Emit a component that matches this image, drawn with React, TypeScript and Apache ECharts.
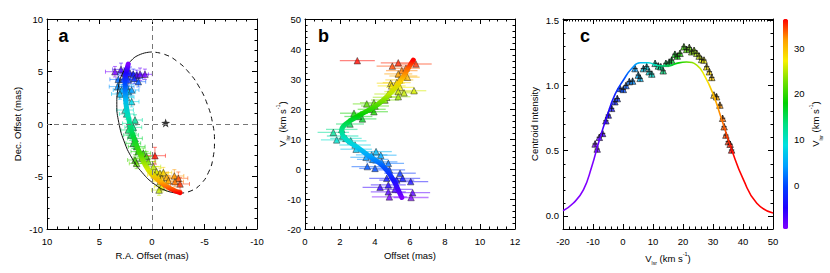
import React, { useEffect, useRef } from "react";
import * as echarts from "echarts";

const FONT = '"Liberation Sans", Arial, Helvetica, sans-serif';
const V_MIN = -9.6;
const V_MAX = 36.4;
const RAINBOW = ["#8000ff", "#2000ff", "#0040ff", "#00a0ff", "#00e0e0", "#00e080", "#00d000", "#70e000", "#f8f000", "#ffa000", "#ff0000"];

// Panel a maser spots: [R.A. offset, Dec. offset, V_lsr, R.A. err, Dec. err]
const A_SPOTS = [
  [3.53, 4.98, -9.2, 0.9, 0.5], [2.95, 5.2, -6.5, 0.8, 0.6], [2.57, 4.83, -5.0, 0.7, 0.5], [2.1, 4.83, -3.5, 0.7, 0.6],
  [1.78, 4.73, -3.0, 0.8, 0.5], [1.46, 4.63, -7.0, 0.7, 0.5], [1.14, 4.73, -8.0, 0.8, 0.6], [0.67, 4.73, -9.0, 0.7, 0.5],
  [3.21, 4.25, 1.5, 0.8, 0.5], [2.73, 4.25, -0.5, 0.7, 0.5], [2.26, 4.19, -1.5, 0.7, 0.5], [1.68, 4.35, -2.0, 0.8, 0.5],
  [1.3, 4.03, 0.5, 0.7, 0.5], [3.27, 3.56, 3.5, 0.8, 0.6], [2.41, 3.56, 2.5, 0.7, 0.5], [2.89, 3.24, 5.0, 0.8, 0.5],
  [2.26, 3.08, 6.0, 0.7, 0.5], [1.94, 3.24, 4.0, 0.7, 0.5], [3.05, 2.86, 6.0, 0.8, 0.5], [2.41, 2.54, 7.0, 0.7, 0.5],
  [1.94, 2.13, 8.0, 0.7, 0.5], [2.57, 1.33, 10.0, 0.8, 0.6], [2.41, 0.95, 11.0, 0.7, 0.5], [1.62, 0.38, 12.0, 0.7, 0.5],
  [2.1, 0.06, 12.5, 0.7, 0.5], [1.78, -0.32, 13.0, 0.8, 0.5], [2.26, -0.57, 14.0, 0.7, 0.5], [2.0, -1.05, 15.0, 0.7, 0.5],
  [1.62, -1.37, 16.0, 0.7, 0.5], [1.78, -1.84, 17.0, 0.7, 0.5], [1.46, -2.16, 18.0, 0.8, 0.5], [1.3, -2.63, 19.0, 0.7, 0.5],
  [0.83, -2.79, 20.0, 0.7, 0.5], [0.51, -3.11, 21.0, 0.7, 0.5], [0.98, -3.27, 21.5, 0.8, 0.5], [1.62, -3.43, 20.5, 0.7, 0.5],
  [1.46, -3.75, 22.0, 0.7, 0.5], [0.35, -3.59, 23.0, 0.7, 0.5], [-0.28, -3.02, 36.0, 1.0, 0.8], [-0.13, -4.06, 25.0, 0.7, 0.5],
  [-0.44, -4.54, 26.0, 0.7, 0.5], [-0.28, -4.86, 27.0, 0.7, 0.5], [-0.76, -4.7, 28.0, 0.8, 0.5], [-1.08, -4.63, 29.0, 0.8, 0.5],
  [-0.6, -5.02, 28.5, 0.7, 0.5], [-0.92, -5.17, 30.0, 0.8, 0.5], [-1.4, -5.08, 31.0, 0.8, 0.5], [-2.13, -4.95, 32.0, 0.9, 0.6],
  [-2.51, -5.17, 34.0, 0.9, 0.6], [-1.56, -5.4, 31.5, 0.8, 0.5], [-2.19, -5.49, 33.0, 0.8, 0.5], [-2.67, -5.71, 35.0, 0.9, 0.6],
  [-0.76, -5.49, 27.5, 0.7, 0.5], [-0.92, -5.97, 26.5, 0.7, 0.5], [-0.67, -6.29, 25.5, 0.7, 0.5],
];
// Panel a model curve: [R.A., Dec., V_lsr]
const A_MODEL = [
  [2.26, 5.71, -9.5], [2.45, 4.9, -5], [2.57, 3.87, 0], [2.51, 2.29, 6], [2.26, 0.7, 11], [1.78, -1.2, 16],
  [1.14, -2.79, 21], [0.35, -4.38, 26], [-0.76, -5.49, 31], [-1.71, -6.13, 34], [-2.67, -6.54, 36.3],
];
// Panel a ring: solid and dashed halves
const A_RING_SOLID = [
  [0.0, 6.86], [1.11, 6.63], [2.06, 5.96], [2.77, 4.89], [3.21, 3.5], [3.35, 1.87], [3.16, 0.13],
  [2.67, -1.61], [1.91, -3.24], [0.93, -4.63], [-0.2, -5.7], [-1.4, -6.37], [-2.6, -6.6],
];
const A_RING_DASHED = [
  [-2.6, -6.6], [-3.71, -6.37], [-4.66, -5.7], [-5.37, -4.63], [-5.81, -3.24], [-5.95, -1.61], [-5.76, 0.13],
  [-5.27, 1.87], [-4.51, 3.5], [-3.53, 4.89], [-2.4, 5.96], [-1.2, 6.63], [0.0, 6.86],
];
const A_STAR = [[-1.3, 0.1]];

// Panel b: [offset, V_lsr, offset err]
const B_SPOTS = [
  [2.99, 36.1, 1.0], [4.99, 34.3, 0.9], [5.33, 35.4, 1.0], [6.34, 35.0, 0.9], [5.53, 32.8, 0.9], [5.77, 33.6, 0.8],
  [5.33, 31.7, 0.8], [5.62, 31.0, 0.8], [5.85, 30.6, 0.7], [5.39, 29.7, 0.8], [5.24, 28.8, 0.8], [4.9, 28.6, 0.8],
  [4.95, 27.7, 0.8], [5.43, 27.2, 0.8], [5.33, 25.8, 0.8], [5.66, 25.4, 0.8], [6.23, 26.1, 0.7], [4.76, 25.0, 0.8],
  [4.67, 23.9, 0.8], [5.33, 24.1, 0.7], [4.57, 23.0, 0.8], [3.53, 21.7, 0.8], [3.94, 22.1, 0.8], [4.0, 21.0, 0.8],
  [3.81, 19.9, 0.8], [3.94, 19.1, 0.8], [3.28, 16.7, 0.8], [2.8, 18.6, 0.8], [3.05, 17.5, 0.8], [2.57, 15.0, 0.8],
  [2.1, 13.2, 0.9], [1.62, 12.2, 0.9], [1.81, 9.7, 0.9], [2.15, 11.0, 0.9], [2.34, 10.2, 0.9], [2.61, 9.4, 0.9],
  [2.86, 8.0, 0.9], [2.92, 6.6, 0.9], [3.49, 3.9, 0.9], [3.81, 4.7, 0.9], [4.06, 5.8, 0.9], [4.33, 4.6, 0.9],
  [3.87, 3.2, 0.9], [3.56, 0.8, 0.9], [4.0, 0.2, 0.9], [4.38, 2.4, 0.9], [4.76, 1.9, 0.9], [4.82, -0.3, 0.9],
  [5.43, -1.4, 0.9], [4.67, -3.1, 1.0], [5.24, -3.7, 1.0], [6.04, -4.2, 1.0], [4.29, -6.1, 1.0], [4.76, -5.3, 1.0],
  [5.14, -6.8, 1.0], [4.76, -7.6, 1.0], [4.82, -9.3, 1.0], [5.58, -3.1, 1.0], [6.15, -7.9, 1.0], [6.06, -9.5, 1.0],
];
// Panel b model curve: [offset, V_lsr]
const B_MODEL = [
  [6.19, 36.3], [5.9, 33.6], [5.43, 29.1], [4.86, 25.2], [4.1, 21.3], [3.14, 18.0], [2.38, 15.2], [2.1, 13.0],
  [2.29, 10.2], [2.95, 7.4], [3.72, 4.1], [4.48, 0.8], [5.05, -3.7], [5.33, -7.0], [5.53, -9.5],
];

// Panel c: [V_lsr, centroid intensity, V err, intensity err]
const C_SPOTS = [
  [-9.3, 0.552, 0.9, 0.025], [-8.6, 0.513, 0.9, 0.025], [-7.9, 0.603, 0.9, 0.025], [-6.8, 0.633, 0.9, 0.025],
  [-5.7, 0.73, 0.9, 0.025], [-4.9, 0.774, 0.9, 0.025], [-3.8, 0.825, 0.9, 0.025], [-2.7, 0.876, 0.9, 0.025],
  [-1.9, 0.9, 0.9, 0.025], [-1.0, 0.978, 0.9, 0.025], [0.1, 0.97, 0.9, 0.025], [1.0, 1.0, 0.9, 0.025],
  [2.1, 1.03, 0.9, 0.025], [3.2, 1.034, 0.9, 0.025], [4.0, 1.13, 0.9, 0.025], [5.1, 1.08, 0.9, 0.025],
  [5.7, 1.055, 0.9, 0.025], [6.8, 1.13, 0.9, 0.025], [7.9, 1.144, 0.9, 0.025], [8.7, 1.106, 0.9, 0.025],
  [9.6, 1.088, 0.9, 0.025], [10.7, 1.17, 0.9, 0.025], [11.8, 1.15, 0.9, 0.025], [12.6, 1.144, 0.9, 0.025],
  [13.4, 1.113, 0.9, 0.025], [14.3, 1.17, 0.9, 0.025], [15.4, 1.18, 0.9, 0.025], [16.2, 1.195, 0.9, 0.025],
  [17.3, 1.24, 0.9, 0.025], [18.1, 1.226, 0.9, 0.025], [19.0, 1.247, 0.9, 0.025], [20.3, 1.297, 0.9, 0.025],
  [21.2, 1.277, 0.9, 0.025], [22.1, 1.292, 0.9, 0.025], [22.9, 1.259, 0.9, 0.025], [23.7, 1.27, 0.9, 0.025],
  [24.6, 1.247, 0.9, 0.025], [25.4, 1.226, 0.9, 0.025], [26.2, 1.2, 0.9, 0.025], [27.0, 1.195, 0.9, 0.025],
  [27.9, 1.144, 0.9, 0.025], [28.8, 1.106, 0.9, 0.025], [29.6, 1.062, 0.9, 0.025], [30.3, 0.927, 0.9, 0.025],
  [31.2, 0.914, 0.9, 0.025], [32.3, 0.85, 0.9, 0.025], [33.2, 0.749, 0.9, 0.025], [33.7, 0.684, 0.9, 0.025],
  [34.3, 0.62, 0.9, 0.025], [35.1, 0.57, 0.9, 0.025], [35.7, 0.55, 0.9, 0.025], [36.2, 0.506, 0.9, 0.025],
];
// Panel c model curve: [V_lsr, intensity]
const C_MODEL = [
  [-20, 0.04], [-16.6, 0.097], [-13.2, 0.2], [-10.4, 0.38], [-8.2, 0.557], [-5.4, 0.76], [-2.7, 0.93], [0.1, 1.04],
  [2.9, 1.13], [5.7, 1.175], [8.4, 1.175], [11.8, 1.152], [15.1, 1.15], [17.9, 1.17], [21.2, 1.18], [24.6, 1.157],
  [27.3, 1.07], [30.1, 0.93], [32.9, 0.74], [36.2, 0.51], [40.1, 0.28], [44.6, 0.097], [50, 0.022],
];
const C_Y_LABELS = [0, 0.5, 1.0, 1.5];
const CBAR_LABELS = [0, 10, 20, 30];

function hexRgb(h: string) {
  return [parseInt(h.slice(1, 3), 16), parseInt(h.slice(3, 5), 16), parseInt(h.slice(5, 7), 16)];
}
function cmap(v: number) {
  const t = Math.min(1, Math.max(0, (v - V_MIN) / (V_MAX - V_MIN)));
  const p = t * (RAINBOW.length - 1);
  const i = Math.min(RAINBOW.length - 2, Math.floor(p));
  const f = p - i;
  const a = hexRgb(RAINBOW[i]);
  const b = hexRgb(RAINBOW[i + 1]);
  const c = a.map((x, k) => Math.round(x + (b[k] - x) * f));
  return `rgb(${c[0]},${c[1]},${c[2]})`;
}
function gradientFor(points: number[][], coordIdx: number, vIdx: number, vertical: boolean) {
  const vals = points.map((p) => p[coordIdx]);
  const lo = Math.min(...vals);
  const hi = Math.max(...vals);
  const stops = points
    .map((p) => ({
      offset: vertical ? (hi - p[coordIdx]) / (hi - lo) : (p[coordIdx] - lo) / (hi - lo),
      color: cmap(p[vIdx]),
    }))
    .sort((a, b) => a.offset - b.offset);
  return vertical
    ? new echarts.graphic.LinearGradient(0, 0, 0, 1, stops)
    : new echarts.graphic.LinearGradient(0, 0, 1, 0, stops);
}

const RICH = {
  n: { fontSize: 9.5, fontFamily: FONT, color: "#000", lineHeight: 15, verticalAlign: "middle" },
  s: { fontSize: 5, fontFamily: FONT, color: "#000", verticalAlign: "bottom" },
  p: { fontSize: 5.5, fontFamily: FONT, color: "#000", verticalAlign: "top" },
};
const VLSR_NAME = "{n|V}{s|lsr}{n| (km s}{p|-1}{n|)}";

function ax(o: any) {
  const base: any = {
    type: "value",
    axisLine: { show: true, onZero: false, lineStyle: { color: "#000", width: 1 } },
    axisTick: { show: true, inside: true, length: 5, lineStyle: { color: "#000", width: 1 } },
    minorTick: { show: true, splitNumber: 5, length: 2.5, lineStyle: { color: "#000", width: 1 } },
    splitLine: { show: false },
    minorSplitLine: { show: false },
    axisLabel: { show: true, color: "#000", fontSize: 9.5, fontFamily: FONT, margin: 4 },
    nameTextStyle: { color: "#000", fontSize: 9.5, fontFamily: FONT, rich: RICH },
  };
  return {
    ...base,
    ...o,
    axisLine: { ...base.axisLine, ...(o.axisLine || {}) },
    axisTick: { ...base.axisTick, ...(o.axisTick || {}) },
    minorTick: { ...base.minorTick, ...(o.minorTick || {}) },
    axisLabel: { ...base.axisLabel, ...(o.axisLabel || {}) },
    nameTextStyle: { ...base.nameTextStyle, ...(o.nameTextStyle || {}) },
  };
}

function errA(params: any, api: any) {
  const x = api.value(0), y = api.value(1), ex = api.value(3), ey = api.value(4);
  const color = api.visual("color");
  const l = api.coord([x + ex, y]), r = api.coord([x - ex, y]);
  const t = api.coord([x, y + ey]), b = api.coord([x, y - ey]);
  const cap = 2;
  const style = { stroke: color, lineWidth: 1, opacity: 0.55 };
  const ln = (x1: number, y1: number, x2: number, y2: number) => ({ type: "line", shape: { x1, y1, x2, y2 }, style });
  return {
    type: "group",
    children: [
      ln(l[0], l[1], r[0], r[1]), ln(t[0], t[1], b[0], b[1]),
      ln(l[0], l[1] - cap, l[0], l[1] + cap), ln(r[0], r[1] - cap, r[0], r[1] + cap),
      ln(t[0] - cap, t[1], t[0] + cap, t[1]), ln(b[0] - cap, b[1], b[0] + cap, b[1]),
    ],
  };
}
function errB(params: any, api: any) {
  const x = api.value(0), y = api.value(1), ex = api.value(2);
  const color = api.visual("color");
  const l = api.coord([x - ex, y]), r = api.coord([x + ex, y]);
  return { type: "line", shape: { x1: l[0], y1: l[1], x2: r[0], y2: r[1] }, style: { stroke: color, lineWidth: 1.3, opacity: 0.5 } };
}
function errC(params: any, api: any) {
  const x = api.value(0), y = api.value(1), ex = api.value(2), ey = api.value(3);
  const l = api.coord([x - ex, y]), r = api.coord([x + ex, y]);
  const t = api.coord([x, y + ey]), b = api.coord([x, y - ey]);
  const style = { stroke: "#111", lineWidth: 0.8 };
  return {
    type: "group",
    children: [
      { type: "line", shape: { x1: l[0], y1: l[1], x2: r[0], y2: r[1] }, style },
      { type: "line", shape: { x1: t[0], y1: t[1], x2: b[0], y2: b[1] }, style },
    ],
  };
}

const STAR_PATH = "path://M0,-10L2.35,-3.24L9.51,-3.09L3.8,1.24L5.88,8.09L0,4L-5.88,8.09L-3.8,1.24L-9.51,-3.09L-2.35,-3.24Z";

export default function App() {
  const ref = useRef<HTMLDivElement>(null);
  useEffect(() => {
    if (!ref.current) return;
    const chart = echarts.init(ref.current, null, { renderer: "svg" });
    const option: any = {
      animation: false,
      textStyle: { fontFamily: FONT },
      grid: [
        { left: 47, top: 19, width: 210, height: 210 },
        { left: 305, top: 19, width: 210, height: 210 },
        { left: 563, top: 19, width: 210, height: 210 },
        { left: 783, top: 19, width: 5, height: 210 },
      ],
      xAxis: [
        ax({ gridIndex: 0, position: "bottom", min: -10, max: 10, interval: 5, inverse: true, name: "R.A. Offset (mas)", nameLocation: "middle", nameGap: 21, axisLabel: { margin: 7 } }),
        ax({ gridIndex: 0, position: "top", min: -10, max: 10, interval: 5, inverse: true, axisLabel: { show: false } }),
        ax({ gridIndex: 1, position: "bottom", min: 0, max: 12, interval: 2, name: "Offset (mas)", nameLocation: "middle", nameGap: 21, minorTick: { splitNumber: 4 }, axisLabel: { margin: 7 } }),
        ax({ gridIndex: 1, position: "top", min: 0, max: 12, interval: 2, minorTick: { splitNumber: 4 }, axisLabel: { show: false } }),
        ax({ gridIndex: 2, position: "bottom", min: -20, max: 50, interval: 10, name: VLSR_NAME, nameLocation: "middle", nameGap: 19, axisLabel: { margin: 7 } }),
        ax({ gridIndex: 2, position: "top", min: -20, max: 50, interval: 10, minorTick: { splitNumber: 10 }, axisLabel: { show: false } }),
        { type: "value", gridIndex: 3, min: 0, max: 1, show: false },
      ],
      yAxis: [
        ax({ gridIndex: 0, position: "left", min: -10, max: 10, interval: 5, name: "Dec. Offset (mas)", nameLocation: "middle", nameGap: 25 }),
        ax({ gridIndex: 0, position: "right", min: -10, max: 10, interval: 5, axisLabel: { show: false } }),
        ax({ gridIndex: 1, position: "left", min: -20, max: 50, interval: 10, name: VLSR_NAME, nameLocation: "middle", nameGap: 15, nameMoveOverlap: false }),
        ax({ gridIndex: 1, position: "right", min: -20, max: 50, interval: 10, axisLabel: { show: false } }),
        ax({ gridIndex: 2, position: "left", min: -0.1, max: 1.51, interval: 0.1, name: "Centroid Intensity", nameLocation: "middle", nameGap: 24, axisTick: { length: 2.5 }, minorTick: { show: false }, axisLabel: { customValues: C_Y_LABELS, formatter: (v: number) => v.toFixed(1) } }),
        ax({ gridIndex: 2, position: "right", min: -0.1, max: 1.51, interval: 0.1, axisTick: { length: 2.5 }, minorTick: { show: false }, axisLabel: { show: false } }),
        ax({ gridIndex: 2, position: "left", min: -0.1, max: 1.51, interval: 0.1, axisLine: { show: false }, axisTick: { customValues: C_Y_LABELS }, minorTick: { show: false }, axisLabel: { show: false } }),
        ax({ gridIndex: 2, position: "right", min: -0.1, max: 1.51, interval: 0.1, axisLine: { show: false }, axisTick: { customValues: C_Y_LABELS }, minorTick: { show: false }, axisLabel: { show: false } }),
        ax({ gridIndex: 3, position: "right", min: V_MIN, max: V_MAX, axisLine: { show: false }, axisTick: { customValues: CBAR_LABELS, length: 2, lineStyle: { color: "#333" } }, minorTick: { show: false }, axisLabel: { customValues: CBAR_LABELS, margin: 6 }, name: VLSR_NAME, nameLocation: "middle", nameGap: 18, nameRotate: 90 }),
      ],
      visualMap: [
        { type: "continuous", show: true, min: V_MIN, max: V_MAX, dimension: 0, seriesIndex: [10], inRange: { color: RAINBOW }, outOfRange: { color: [RAINBOW[0], RAINBOW[RAINBOW.length - 1]] }, orient: "vertical", left: 783, top: 19, itemWidth: 5, itemHeight: 210, padding: 0, calculable: false, hoverLink: false },
        { type: "continuous", show: false, min: V_MIN, max: V_MAX, dimension: 2, seriesIndex: [2, 4], inRange: { color: RAINBOW }, outOfRange: { color: [RAINBOW[0], RAINBOW[RAINBOW.length - 1]] } },
        { type: "continuous", show: false, min: V_MIN, max: V_MAX, dimension: 1, seriesIndex: [6, 8], inRange: { color: RAINBOW }, outOfRange: { color: [RAINBOW[0], RAINBOW[RAINBOW.length - 1]] } },
      ],
      series: [
        { type: "line", xAxisIndex: 0, yAxisIndex: 0, data: A_RING_DASHED, smooth: true, showSymbol: false, lineStyle: { color: "#111", width: 1, type: [5, 4] }, silent: true },
        { type: "line", xAxisIndex: 0, yAxisIndex: 0, data: A_RING_SOLID, smooth: true, showSymbol: false, lineStyle: { color: "#111", width: 1 }, silent: true },
        { type: "custom", xAxisIndex: 0, yAxisIndex: 0, data: A_SPOTS, renderItem: errA, silent: true },
        { type: "line", xAxisIndex: 0, yAxisIndex: 0, data: A_MODEL.map((p) => [p[0], p[1]]), smooth: true, showSymbol: false, lineStyle: { width: 5, color: gradientFor(A_MODEL, 1, 2, true), cap: "round" }, silent: true },
        { type: "scatter", xAxisIndex: 0, yAxisIndex: 0, data: A_SPOTS, symbol: "triangle", symbolSize: 6.5, itemStyle: { borderColor: "#222", borderWidth: 0.6 }, silent: true },
        {
          type: "scatter", xAxisIndex: 0, yAxisIndex: 0, data: A_STAR, symbol: STAR_PATH, symbolSize: 9, itemStyle: { color: "#000" }, silent: true, z: 3,
          markLine: { silent: true, symbol: ["none", "none"], label: { show: false }, lineStyle: { color: "#777", width: 1, type: [5, 4] }, data: [{ xAxis: 0 }, { yAxis: 0 }] },
        },
        { type: "custom", xAxisIndex: 2, yAxisIndex: 2, data: B_SPOTS, renderItem: errB, silent: true },
        { type: "line", xAxisIndex: 2, yAxisIndex: 2, data: B_MODEL, smooth: true, showSymbol: false, lineStyle: { width: 5, color: gradientFor(B_MODEL, 1, 1, true), cap: "round" }, silent: true },
        { type: "scatter", xAxisIndex: 2, yAxisIndex: 2, data: B_SPOTS, symbol: "triangle", symbolSize: 6.5, itemStyle: { borderColor: "#222", borderWidth: 0.6 }, silent: true },
        { type: "line", xAxisIndex: 4, yAxisIndex: 4, data: C_MODEL, smooth: true, showSymbol: false, lineStyle: { width: 1.6, color: gradientFor(C_MODEL, 0, 0, false) }, silent: true },
        { type: "scatter", xAxisIndex: 4, yAxisIndex: 4, data: C_SPOTS, symbol: "triangle", symbolSize: 6.5, itemStyle: { borderColor: "#222", borderWidth: 0.8 }, silent: true },
        { type: "custom", xAxisIndex: 4, yAxisIndex: 4, data: C_SPOTS, renderItem: errC, silent: true, z: 3 },
        { type: "scatter", xAxisIndex: 6, yAxisIndex: 8, data: [], silent: true },
      ],
      graphic: [
        { type: "text", x: 58.5, y: 36, style: { text: "a", fontSize: 18, fontWeight: "bold", fontFamily: FONT, fill: "#000", textVerticalAlign: "middle" } },
        { type: "text", x: 318, y: 36, style: { text: "b", fontSize: 18, fontWeight: "bold", fontFamily: FONT, fill: "#000", textVerticalAlign: "middle" } },
        { type: "text", x: 580, y: 36, style: { text: "c", fontSize: 18, fontWeight: "bold", fontFamily: FONT, fill: "#000", textVerticalAlign: "middle" } },
      ],
    };
    chart.setOption(option);
    return () => chart.dispose();
  }, []);
  return <div ref={ref} style={{ position: "absolute", left: 0, top: 0, width: 830, height: 273 }} />;
}
